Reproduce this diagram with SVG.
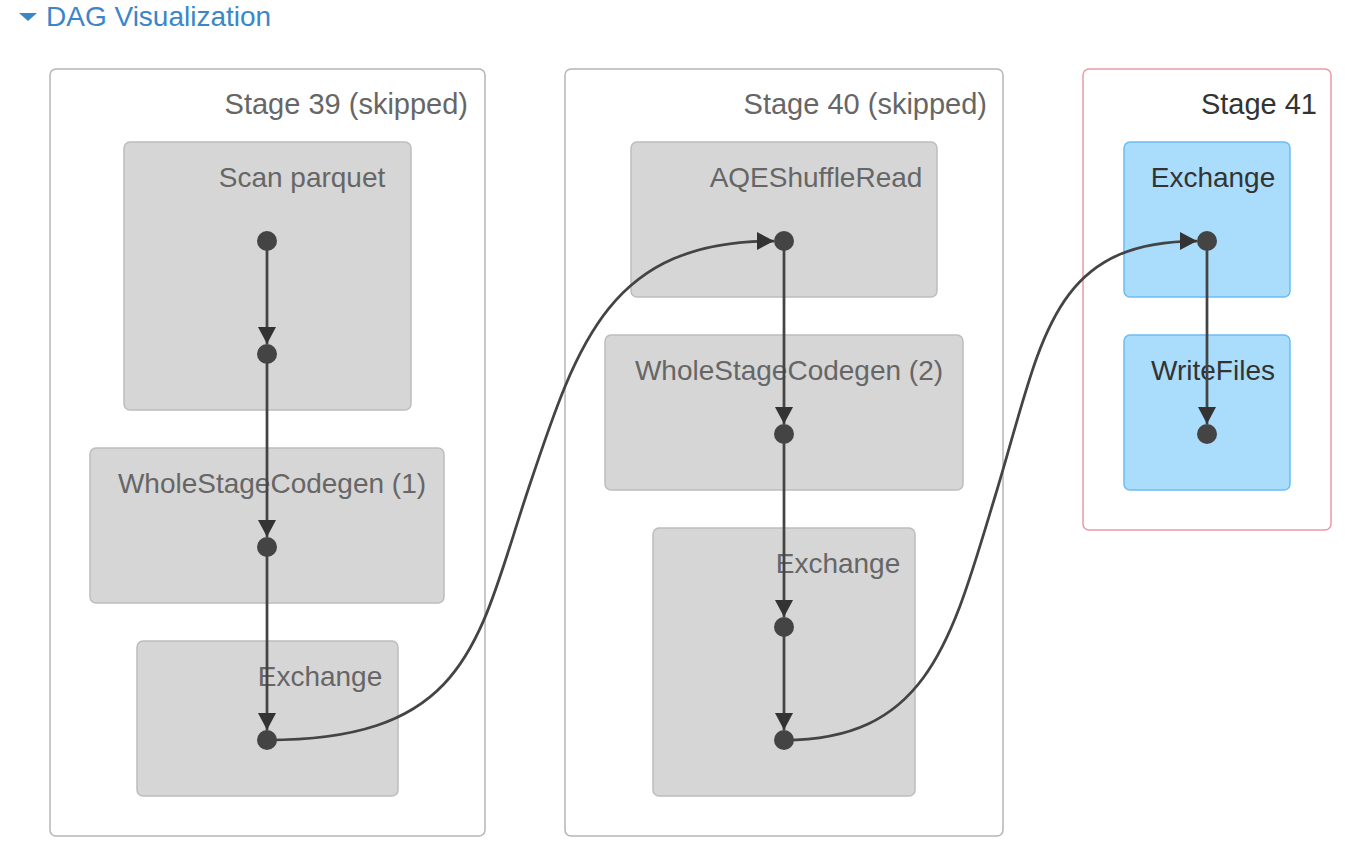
<svg xmlns="http://www.w3.org/2000/svg" width="1366" height="864" viewBox="0 0 1366 864">
  <style>
    text { font-family: "Liberation Sans", Arial, sans-serif; font-size: 28px; }
    .title { fill: #3b86c8; }
    .stage { fill: #ffffff; stroke: #b5b5b5; stroke-width: 1.5; }
    .stage-active { fill: #ffffff; stroke: #ea9aa6; stroke-width: 1.5; }
    .stage-label { fill: #666666; text-anchor: end; font-size: 29px; }
    .stage-label-active { fill: #333333; text-anchor: end; font-size: 29px; }
    .node { fill: #d6d6d6; stroke: #bdbdbd; stroke-width: 1.5; }
    .node-active { fill: #aadcfc; stroke: #6cbcf5; stroke-width: 1.5; }
    .node-label { fill: #666666; text-anchor: middle; }
    .node-label-active { fill: #333333; text-anchor: middle; }
    .edge { fill: none; stroke: #444444; stroke-width: 2.75; marker-end: url(#arrow); }
    .dot { fill: #444444; }
  </style>
  <defs>
    <marker id="arrow" markerUnits="userSpaceOnUse" markerWidth="18" markerHeight="18" viewBox="0 0 18 18" refX="17" refY="9" orient="auto">
      <path d="M0,0 L17,9 L0,18 z" fill="#333333"/>
    </marker>
  </defs>

  <g id="title">
    <polygon points="19,13 37,13 28,21" fill="#3b86c8"/>
    <text class="title" x="46" y="26">DAG Visualization</text>
  </g>

  <g id="stage-39">
    <rect class="stage" x="50" y="69" width="435" height="767" rx="6"/>
    <text class="stage-label" x="468" y="114">Stage 39 (skipped)</text>
  </g>
  <g id="stage-40">
    <rect class="stage" x="565" y="69" width="438" height="767" rx="6"/>
    <text class="stage-label" x="987" y="114">Stage 40 (skipped)</text>
  </g>
  <g id="stage-41">
    <rect class="stage-active" x="1083" y="69" width="248" height="461" rx="6"/>
    <text class="stage-label-active" x="1317" y="114">Stage 41</text>
  </g>

  <g id="node-scan-parquet">
    <rect class="node" x="124" y="142" width="287" height="268" rx="6"/>
    <text class="node-label" x="302" y="187">Scan parquet</text>
  </g>
  <g id="node-wscg-1">
    <rect class="node" x="90" y="448" width="354" height="155" rx="6"/>
    <text class="node-label" x="272" y="493">WholeStageCodegen (1)</text>
  </g>
  <g id="node-exchange-39">
    <rect class="node" x="137" y="641" width="261" height="155" rx="6"/>
    <text class="node-label" x="320" y="686">Exchange</text>
  </g>
  <g id="node-aqe">
    <rect class="node" x="631" y="142" width="306" height="155" rx="6"/>
    <text class="node-label" x="816" y="187">AQEShuffleRead</text>
  </g>
  <g id="node-wscg-2">
    <rect class="node" x="605" y="335" width="358" height="155" rx="6"/>
    <text class="node-label" x="789" y="380">WholeStageCodegen (2)</text>
  </g>
  <g id="node-exchange-40">
    <rect class="node" x="653" y="528" width="262" height="268" rx="6"/>
    <text class="node-label" x="838" y="573">Exchange</text>
  </g>
  <g id="node-exchange-41">
    <rect class="node-active" x="1124" y="142" width="166" height="155" rx="6"/>
    <text class="node-label-active" x="1213" y="187">Exchange</text>
  </g>
  <g id="node-writefiles">
    <rect class="node-active" x="1124" y="335" width="166" height="155" rx="6"/>
    <text class="node-label-active" x="1213" y="380">WriteFiles</text>
  </g>

  <g id="connectors">
    <path class="edge" d="M267,241 L267,344"/>
    <path class="edge" d="M267,354 L267,537"/>
    <path class="edge" d="M267,547 L267,730"/>
    <path class="edge" d="M267,740 C470,740 478,640 528,490 C578,340 610,241 774,241"/>
    <path class="edge" d="M784,241 L784,424"/>
    <path class="edge" d="M784,434 L784,617"/>
    <path class="edge" d="M784,627 L784,730"/>
    <path class="edge" d="M784,740 C930,740 952,638 997,490 C1042,341 1050,241 1197,241"/>
    <path class="edge" d="M1207,241 L1207,424"/>
  </g>

  <g id="dots">
    <circle class="dot" cx="267" cy="241" r="10"/>
    <circle class="dot" cx="267" cy="354" r="10"/>
    <circle class="dot" cx="267" cy="547" r="10"/>
    <circle class="dot" cx="267" cy="740" r="10"/>
    <circle class="dot" cx="784" cy="241" r="10"/>
    <circle class="dot" cx="784" cy="434" r="10"/>
    <circle class="dot" cx="784" cy="627" r="10"/>
    <circle class="dot" cx="784" cy="740" r="10"/>
    <circle class="dot" cx="1207" cy="241" r="10"/>
    <circle class="dot" cx="1207" cy="434" r="10"/>
  </g>
</svg>
